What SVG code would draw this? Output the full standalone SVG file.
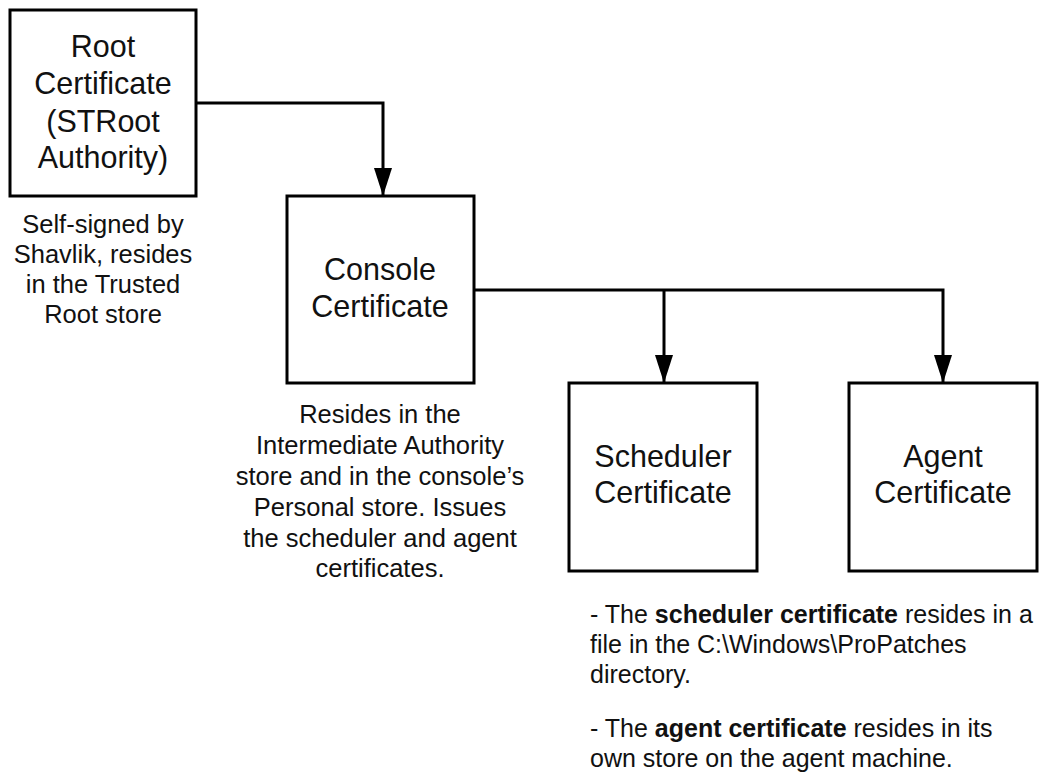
<svg xmlns="http://www.w3.org/2000/svg" width="1042" height="774" viewBox="0 0 1042 774">
<style>
.box{fill:#fff;stroke:#000;stroke-width:3}
.t{font-family:"Liberation Sans",Arial,sans-serif;font-size:30.5px;fill:#111;text-anchor:middle}
.d{font-family:"Liberation Sans",Arial,sans-serif;font-size:25.5px;fill:#111;text-anchor:middle}
.n{font-family:"Liberation Sans",Arial,sans-serif;font-size:25px;fill:#111}
.b{font-weight:bold}
.c{fill:none;stroke:#000;stroke-width:3}
</style>
<defs>
<marker id="ah" markerUnits="userSpaceOnUse" markerWidth="28" markerHeight="18" refX="27" refY="9" orient="auto" viewBox="0 0 28 18">
<path d="M0,0 L28,9 L0,18 Z" fill="#000"/>
</marker>
</defs>
<rect width="1042" height="774" fill="#fff"/>
<g id="connectors">
<path class="c" d="M196,103 H383 V195" marker-end="url(#ah)"/>
<path class="c" d="M474,290 H943 V382" marker-end="url(#ah)"/>
<path class="c" d="M664,290 V382" marker-end="url(#ah)"/>
</g>
<g id="root">
<rect class="box" x="10" y="10" width="186" height="186"/>
<text class="t" x="103" y="57">Root</text>
<text class="t" x="103" y="94">Certificate</text>
<text class="t" x="103" y="132">(STRoot</text>
<text class="t" x="103" y="168">Authority)</text>
</g>
<g id="root-note">
<text class="d" x="103" y="233">Self-signed by</text>
<text class="d" x="103" y="263">Shavlik, resides</text>
<text class="d" x="103" y="293">in the Trusted</text>
<text class="d" x="103" y="323">Root store</text>
</g>
<g id="console">
<rect class="box" x="287" y="196" width="187" height="187"/>
<text class="t" x="380" y="280">Console</text>
<text class="t" x="380" y="317">Certificate</text>
</g>
<g id="console-note">
<text class="d" x="380" y="423">Resides in the</text>
<text class="d" x="380" y="454">Intermediate Authority</text>
<text class="d" x="380" y="485">store and in the console’s</text>
<text class="d" x="380" y="516">Personal store. Issues</text>
<text class="d" x="380" y="547">the scheduler and agent</text>
<text class="d" x="380" y="577">certificates.</text>
</g>
<g id="scheduler">
<rect class="box" x="569" y="383" width="188" height="188"/>
<text class="t" x="663" y="467">Scheduler</text>
<text class="t" x="663" y="503">Certificate</text>
</g>
<g id="agent">
<rect class="box" x="849" y="383" width="188" height="188"/>
<text class="t" x="943" y="467">Agent</text>
<text class="t" x="943" y="503">Certificate</text>
</g>
<g id="cert-notes">
<text class="n" x="590" y="623">- The <tspan class="b">scheduler certificate</tspan> resides in a</text>
<text class="n" x="590" y="653">file in the C:\Windows\ProPatches</text>
<text class="n" x="590" y="683">directory.</text>
<text class="n" x="590" y="737">- The <tspan class="b">agent certificate</tspan> resides in its</text>
<text class="n" x="590" y="767">own store on the agent machine.</text>
</g>
</svg>
